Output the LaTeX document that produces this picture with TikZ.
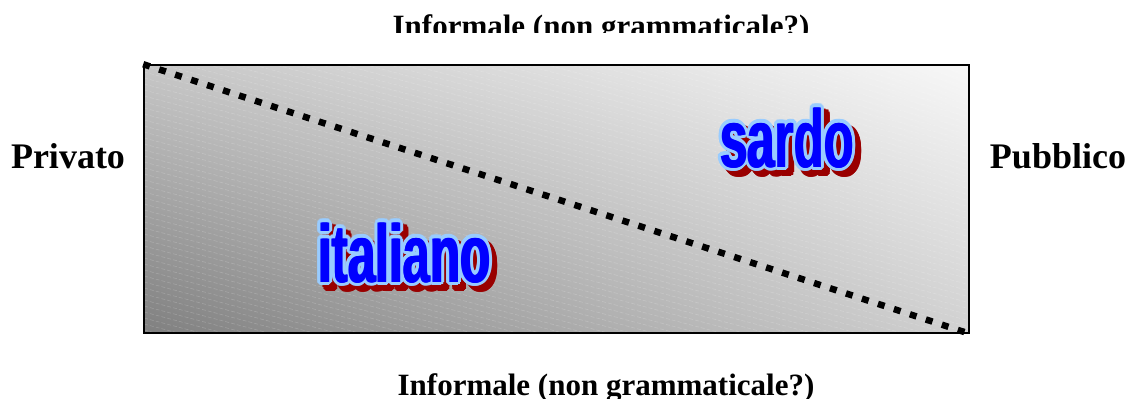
\documentclass[tikz,border=0pt]{standalone}
\usepackage{fontspec}
\usetikzlibrary{shadings,fit}
\setmainfont{Liberation Serif}
\newfontfamily\bigsans{Liberation Sans}
\definecolor{wordblue}{HTML}{0000FF}
\definecolor{wordedge}{HTML}{99CCFF}
\definecolor{wordshadow}{HTML}{990000}
\tikzset{
  sidelabel/.style={font=\fontsize{36}{36}\selectfont\bfseries, inner sep=0pt, anchor=base},
  edgelabel/.style={font=\fontsize{31}{31}\selectfont\bfseries, inner sep=0pt, anchor=base},
  wordfont/.style={font=\bigsans\fontsize{82}{82}\selectfont\bfseries, inner sep=0pt, anchor=base west},
}
\newcommand{\fancyword}[3]{% x, y, text
  \foreach \dx/\dy in {0/0,2.5/0,-2.5/0,0/2.5,0/-2.5,1.8/1.8,-1.8/1.8,1.8/-1.8,-1.8/-1.8,3.8/0,-3.8/0,0/3.8,0/-3.8,2.7/2.7,-2.7/2.7,2.7/-2.7,-2.7/-2.7,3.5/1.5,-3.5/1.5,3.5/-1.5,-3.5/-1.5,1.5/3.5,-1.5/3.5,1.5/-3.5,-1.5/-3.5}{
    \node[wordfont, text=wordshadow] at (#1+\dx+5.5,#2+\dy+5.5) {\scalebox{0.6}[1]{#3}};
  }
  \foreach \dx/\dy in {2.5/0,-2.5/0,0/2.5,0/-2.5,1.8/1.8,-1.8/1.8,1.8/-1.8,-1.8/-1.8,3.8/0,-3.8/0,0/3.8,0/-3.8,2.7/2.7,-2.7/2.7,2.7/-2.7,-2.7/-2.7,3.5/1.5,-3.5/1.5,3.5/-1.5,-3.5/-1.5,1.5/3.5,-1.5/3.5,1.5/-3.5,-1.5/-3.5}{
    \node[wordfont, text=wordedge] at (#1+\dx,#2+\dy) {\scalebox{0.6}[1]{#3}};
  }
  \foreach \dx in {-0.8,0,0.8}{
    \node[wordfont, text=wordblue] at (#1+\dx,#2) {\scalebox{0.6}[1]{#3}};
  }
}
\begin{document}
\begin{tikzpicture}[x=1pt,y=-1pt]
\useasboundingbox[fill=white] (0,0) rectangle (1128,399);
% box with gradient
\coordinate (tl) at (144,65);
\coordinate (br) at (969,333);
\shade[upper left=black!22, upper right=white!97!black, lower left=black!50, lower right=black!18]
  (tl) rectangle (br);
\begin{scope}
  \clip (tl) rectangle (br);
  \foreach \k in {-40,...,150}{
    \draw[white, opacity=0.18, line width=0.6pt, dash pattern=on 4pt off 2pt]
      (144,\k*6) -- ++(830,220);
  }
\end{scope}
\node[draw=black, line width=1.6pt, inner sep=0pt, fit=(tl)(br)] (box) {};
% dashed diagonal
\draw[line width=6.5pt, dash pattern=on 7pt off 9.8pt] (box.north west) -- (box.south east);
% words
\fancyword{318}{282}{italiano}
\fancyword{720}{167}{sardo}
% side labels
\node[sidelabel] (priv) at (68,168) {Privato};
\node[sidelabel] (pub) at (1058,168) {Pubblico};
% top and bottom labels
\begin{scope}
  \clip (0,0) rectangle (1128,32);
  \node[edgelabel] (top) at (601,36) {Informale (non grammaticale?)};
\end{scope}
\node[edgelabel] (bottom) at (606,395) {Informale (non grammaticale?)};
\end{tikzpicture}
\end{document}
